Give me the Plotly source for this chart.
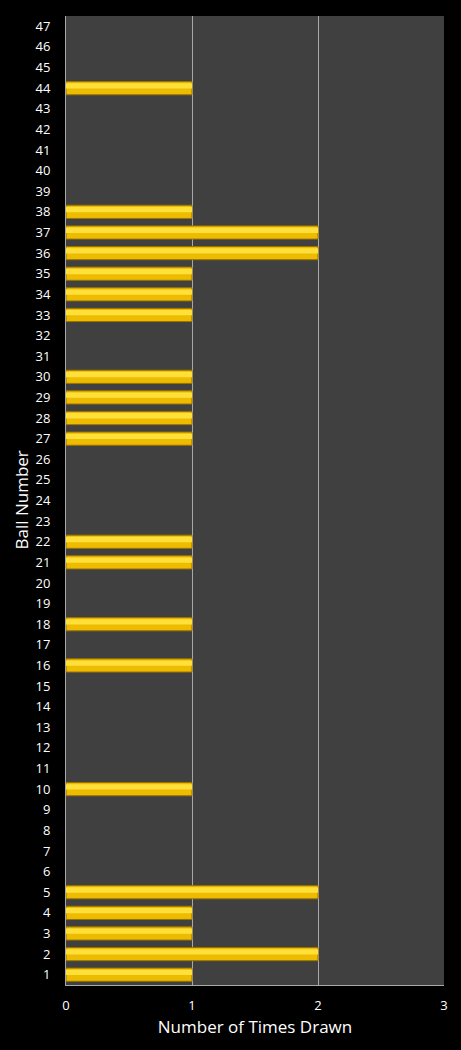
import plotly.graph_objects as go

balls = list(range(1, 48))
drawn = {1: 1, 2: 2, 3: 1, 4: 1, 5: 2, 10: 1, 16: 1, 18: 1, 21: 1, 22: 1,
         27: 1, 28: 1, 29: 1, 30: 1, 33: 1, 34: 1, 35: 1, 36: 2, 37: 2, 38: 1, 44: 1}
counts = [drawn.get(b, 0) for b in balls]
x_ticks = [0, 1, 2, 3]

outline_w = [1 if c > 0 else 0 for c in counts]

fig = go.Figure()
# main bar
fig.add_trace(go.Bar(
    x=counts, y=balls, orientation="h", width=0.64,
    marker=dict(color="#EDBB00", line=dict(color="#9A7300", width=outline_w)),
    hoverinfo="x+y", showlegend=False,
))
# highlight band for glossy look
fig.add_trace(go.Bar(
    x=counts, y=balls, orientation="h", width=0.26, offset=-0.02,
    marker=dict(color="#FFE03A", line=dict(width=0)),
    hoverinfo="skip", showlegend=False,
))

fig.update_layout(
    width=461, height=1050,
    paper_bgcolor="#000000", plot_bgcolor="#404040",
    margin=dict(l=66, r=17, t=16, b=65),
    barmode="overlay",
    font=dict(family="Open Sans, DejaVu Sans, sans-serif", color="#FFFFFF", size=13),
    xaxis=dict(
        range=[0, 3], tickvals=x_ticks, showgrid=True, gridcolor="#A8A8A8", gridwidth=1,
        zeroline=False, showline=True, linecolor="#A8A8A8", linewidth=1,
        ticks="", ticklabelstandoff=8,
        title=dict(text="Number of Times Drawn", font=dict(size=17), standoff=8),
    ),
    yaxis=dict(
        range=[0.5, 47.5], tickvals=balls, ticktext=[str(b) for b in balls],
        showgrid=False, zeroline=False, showline=True, linecolor="#A8A8A8", linewidth=1,
        ticks="", ticklabelstandoff=12,
    ),
    annotations=[dict(
        text="Ball Number", textangle=-90, showarrow=False,
        xref="paper", yref="paper", x=(21 - 66) / 378, y=0.5,
        xanchor="center", yanchor="middle", font=dict(size=17, color="#FFFFFF"),
    )],
)

fig.write_html("out.html")
